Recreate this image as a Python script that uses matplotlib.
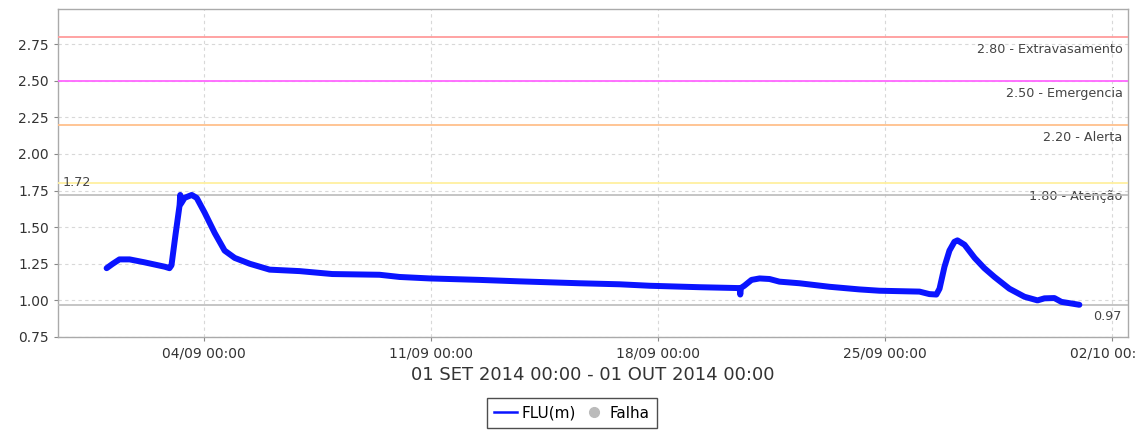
import matplotlib
matplotlib.use("Agg")
import matplotlib.pyplot as plt
import matplotlib.dates as mdates
from matplotlib.lines import Line2D
import pandas as pd

# ---- data ----
times = [
    "2014-09-01 00:00", "2014-09-01 04:30", "2014-09-01 09:30", "2014-09-01 17:00",
    "2014-09-02 04:00", "2014-09-02 19:00", "2014-09-02 22:30", "2014-09-03 00:00",
    "2014-09-03 03:00", "2014-09-03 06:00", "2014-09-03 06:30", "2014-09-03 07:00",
    "2014-09-03 09:40", "2014-09-03 15:00", "2014-09-03 18:40", "2014-09-04 00:30",
    "2014-09-04 08:00", "2014-09-04 15:20", "2014-09-04 22:50", "2014-09-05 10:00",
    "2014-09-06 00:40", "2014-09-06 22:50", "2014-09-07 23:00", "2014-09-09 10:00",
    "2014-09-10 00:50", "2014-09-10 23:00", "2014-09-12 12:00", "2014-09-13 17:40",
    "2014-09-15 14:00", "2014-09-16 19:40", "2014-09-17 17:50", "2014-09-19 07:00",
    "2014-09-20 12:30", "2014-09-20 13:00", "2014-09-20 13:30", "2014-09-20 16:00",
    "2014-09-20 21:20", "2014-09-21 03:20", "2014-09-21 10:40", "2014-09-21 18:00",
    "2014-09-22 08:50", "2014-09-23 07:00", "2014-09-24 05:10", "2014-09-24 20:00",
    "2014-09-26 01:40", "2014-09-26 09:00", "2014-09-26 14:10", "2014-09-26 16:30",
    "2014-09-26 20:10", "2014-09-26 23:50", "2014-09-27 03:30", "2014-09-27 05:45",
    "2014-09-27 11:00", "2014-09-27 18:30", "2014-09-28 01:40", "2014-09-28 09:10",
    "2014-09-28 20:10", "2014-09-29 07:20", "2014-09-29 17:00", "2014-09-29 22:10",
    "2014-09-30 05:30", "2014-09-30 10:40", "2014-10-01 00:00",
]
flu = [
    1.22, 1.25, 1.28, 1.28,
    1.26, 1.23, 1.22, 1.24,
    1.45, 1.65, 1.72, 1.66,
    1.70, 1.72, 1.70, 1.60,
    1.46, 1.34, 1.29, 1.25,
    1.21, 1.20, 1.18, 1.175,
    1.16, 1.15, 1.14, 1.13,
    1.117, 1.11, 1.10, 1.09,
    1.084, 1.04, 1.085, 1.10,
    1.14, 1.15, 1.146, 1.128,
    1.117, 1.093, 1.075, 1.066,
    1.06, 1.043, 1.04, 1.08,
    1.23, 1.34, 1.40, 1.41,
    1.38, 1.29, 1.22, 1.16,
    1.08, 1.025, 1.00, 1.014,
    1.016, 0.99, 0.97,
]
levels = [2.80, 2.50, 2.20, 1.80]
level_names = ["Extravasamento", "Emergencia", "Alerta", "Atenção"]
level_colors = ["#ff9c9c", "#ff66ff", "#ffc08c", "#fff0a0"]
max_val = 1.72
min_val = 0.97
xtick_dates = ["2014-09-04", "2014-09-11", "2014-09-18", "2014-09-25", "2014-10-02"]
yticks = [0.75, 1.00, 1.25, 1.50, 1.75, 2.00, 2.25, 2.50, 2.75]
xlabel = "01 SET 2014 00:00 - 01 OUT 2014 00:00"

t = pd.to_datetime(times)

fig = plt.figure(figsize=(11.36, 4.30), dpi=100)
ax = fig.add_axes([58 / 1136, 1 - 337 / 430, (1128 - 58) / 1136, (337 - 9) / 430])

ax.plot(t, flu, color="#0a14ff", lw=4.3, solid_capstyle="round", solid_joinstyle="round", zorder=5)

ax.margins(x=0.05)
ax.set_ylim(0.75, 2.99)

for lv, nm, c in zip(levels, level_names, level_colors):
    ax.axhline(lv, color=c, lw=1.3, zorder=3)
    ax.annotate(f"{lv:.2f} - {nm}", xy=(0.995, lv), xycoords=ax.get_yaxis_transform(),
                xytext=(0, -13), textcoords="offset pixels", ha="right", va="center",
                fontsize=9.2, color="#444444")

ax.axhline(max_val, color="#bbbbbb", lw=1.2, zorder=3)
ax.axhline(min_val, color="#bbbbbb", lw=1.2, zorder=3)
ax.annotate(f"{max_val:.2f}", xy=(0.004, max_val), xycoords=ax.get_yaxis_transform(),
            xytext=(0, 12), textcoords="offset pixels", ha="left", va="center",
            fontsize=9.2, color="#444444")
ax.annotate(f"{min_val:.2f}", xy=(0.994, min_val), xycoords=ax.get_yaxis_transform(),
            xytext=(0, -12), textcoords="offset pixels", ha="right", va="center",
            fontsize=9.2, color="#444444")

ax.set_xticks(pd.to_datetime(xtick_dates))
ax.xaxis.set_major_formatter(mdates.DateFormatter("%d/%m %H:%M"))
ax.set_yticks(yticks)
ax.yaxis.set_major_formatter(matplotlib.ticker.FormatStrFormatter("%.2f"))
ax.tick_params(axis="both", labelsize=10, labelcolor="#333333", length=3, width=0.8,
               color="#888888")

ax.grid(True, color="#d8d8d8", ls=(0, (3, 3)), lw=0.8, zorder=0)
for s in ax.spines.values():
    s.set_color("#aaaaaa")
    s.set_linewidth(1.0)

ax.set_xlabel(xlabel, fontsize=13, color="#333333", labelpad=4)

handles = [
    Line2D([], [], color="#0a14ff", lw=1.8),
    Line2D([], [], color="#bbbbbb", marker="o", ls="none", markersize=7),
]
leg = fig.legend(handles, ["FLU(m)", "Falha"], loc="upper center",
                 bbox_to_anchor=(572 / 1136, 1 - 398 / 430), ncol=2, fontsize=11,
                 frameon=True, fancybox=False, edgecolor="#222222",
                 handlelength=1.5, handletextpad=0.3, columnspacing=0.4,
                 borderpad=0.5, borderaxespad=0)
leg.get_frame().set_linewidth(1.0)

fig.savefig("out.png", dpi=100)
